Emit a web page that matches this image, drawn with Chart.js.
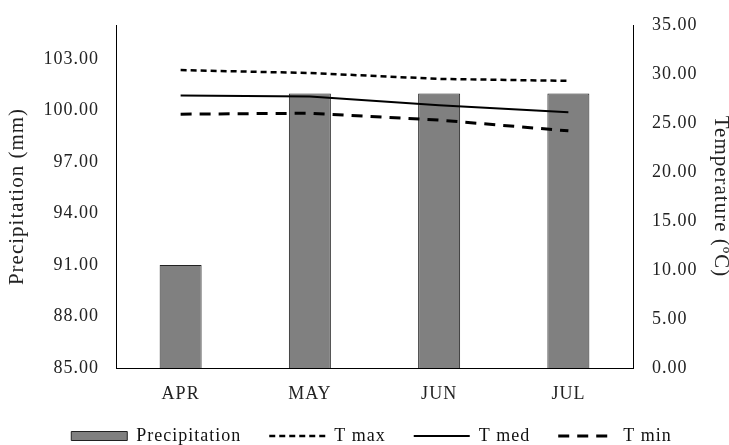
<!DOCTYPE html>
<html lang="en">
<head>
    <meta charset="UTF-8">
    <title>Precipitation and Temperature</title>
    <script src="https://cdn.jsdelivr.net/npm/chart.js@4.4.1/dist/chart.umd.min.js"></script>
    <style>
        html, body { margin: 0; padding: 0; background: #fff; }
        .chart-container { width: 729px; height: 445px; }
    </style>
</head>
<body>
    <div class="chart-container">
        <canvas id="climaChart"></canvas>
    </div>

    <script>
        // Datos
        const meses = ['APR', 'MAY', 'JUN', 'JUL'];
        const precipitacion = [91, 101, 101, 101];
        const tMax = [30.4, 30.1, 29.5, 29.3];
        const tMed = [27.8, 27.7, 26.8, 26.1];
        const tMin = [25.9, 26.0, 25.3, 24.2];
        const ticksPrecip = [85, 88, 91, 94, 97, 100, 103];

        const fuente = 'Liberation Serif, Times New Roman, serif';

        // Espaciado de letras (el original tiene texto algo separado)
        const espaciado = {
            id: 'espaciado',
            beforeUpdate(chart) { chart.ctx.letterSpacing = '1px'; },
            beforeLayout(chart) { chart.ctx.letterSpacing = '1px'; },
            beforeDraw(chart) { chart.ctx.letterSpacing = '1px'; }
        };

        // Leyenda con el estilo de linea de cada serie
        function etiquetasLeyenda(chart) {
            const items = Chart.defaults.plugins.legend.labels.generateLabels(chart);
            items.forEach(it => {
                const ds = chart.data.datasets[it.datasetIndex];
                it.lineDash = ds.borderDash || [];
                it.lineWidth = ds.borderWidth;
                it.strokeStyle = ds.borderColor;
                it.fillStyle = ds.backgroundColor;
            });
            return items;
        }

        const ctx = document.getElementById('climaChart').getContext('2d');
        new Chart(ctx, {
            data: {
                labels: meses,
                datasets: [
                    {
                        type: 'bar',
                        label: 'Precipitation',
                        data: precipitacion,
                        yAxisID: 'yPrecip',
                        backgroundColor: '#808080',
                        borderColor: '#222',
                        borderWidth: 1,
                        pointStyle: 'rect',
                        barPercentage: 0.65,
                        categoryPercentage: 0.5,
                        order: 2
                    },
                    {
                        type: 'line',
                        label: 'T max',
                        data: tMax,
                        yAxisID: 'yTemp',
                        borderColor: '#000',
                        backgroundColor: '#000',
                        borderWidth: 2.5,
                        borderDash: [6, 4],
                        pointRadius: 0,
                        pointStyle: 'line',
                        tension: 0,
                        order: 1
                    },
                    {
                        type: 'line',
                        label: 'T med',
                        data: tMed,
                        yAxisID: 'yTemp',
                        borderColor: '#000',
                        backgroundColor: '#000',
                        borderWidth: 2,
                        pointRadius: 0,
                        pointStyle: 'line',
                        tension: 0,
                        order: 1
                    },
                    {
                        type: 'line',
                        label: 'T min',
                        data: tMin,
                        yAxisID: 'yTemp',
                        borderColor: '#000',
                        backgroundColor: '#000',
                        borderWidth: 3,
                        borderDash: [11, 8],
                        pointRadius: 0,
                        pointStyle: 'line',
                        tension: 0,
                        order: 1
                    }
                ]
            },
            plugins: [espaciado],
            options: {
                responsive: true,
                maintainAspectRatio: false,
                animation: false,
                layout: { padding: { top: 25, left: 14, right: 0, bottom: -10 } },
                plugins: {
                    tooltip: { enabled: false },
                    legend: {
                        position: 'bottom',
                        labels: {
                            usePointStyle: true,
                            pointStyleWidth: 56,
                            boxHeight: 9,
                            color: '#111',
                            padding: 28,
                            font: { family: fuente, size: 18 },
                            sort: (a, b) => a.datasetIndex - b.datasetIndex,
                            generateLabels: etiquetasLeyenda
                        }
                    }
                },
                scales: {
                    x: {
                        grid: { display: false },
                        border: { display: true, color: '#000', width: 1 },
                        afterFit: (eje) => { eje.height = 31; },
                        ticks: {
                            color: '#222',
                            padding: 7,
                            font: { family: fuente, size: 18 }
                        }
                    },
                    yPrecip: {
                        position: 'left',
                        min: 85,
                        max: 105,
                        grid: { display: false },
                        border: { display: true, color: '#000', width: 1 },
                        afterBuildTicks: (eje) => {
                            eje.ticks = ticksPrecip.map(v => ({ value: v }));
                        },
                        afterFit: (eje) => { eje.width = 102; },
                        ticks: {
                            color: '#222',
                            padding: 9,
                            font: { family: fuente, size: 18 },
                            callback: (v) => Number(v).toFixed(2)
                        },
                        title: {
                            display: true,
                            text: 'Precipitation (mm)',
                            color: '#222',
                            padding: { top: -9, bottom: 0 },
                            font: { family: fuente, size: 21 }
                        }
                    },
                    yTemp: {
                        position: 'right',
                        min: 0,
                        max: 35,
                        grid: { display: false },
                        border: { display: true, color: '#000', width: 1 },
                        afterFit: (eje) => { eje.width = 96; },
                        ticks: {
                            stepSize: 5,
                            color: '#222',
                            padding: 11,
                            font: { family: fuente, size: 18 },
                            callback: (v) => Number(v).toFixed(2)
                        },
                        title: {
                            display: true,
                            text: 'Temperature (ºC)',
                            color: '#222',
                            padding: { top: -4, bottom: 0 },
                            font: { family: fuente, size: 21 }
                        }
                    }
                }
            }
        });
    </script>
</body>
</html>
